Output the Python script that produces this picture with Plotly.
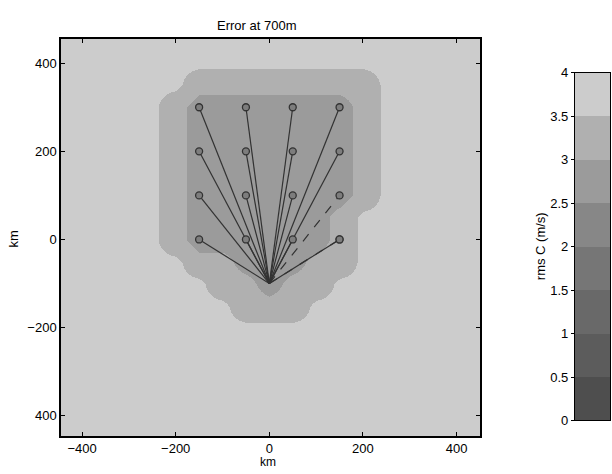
import plotly.graph_objects as go

# ---------------- data ----------------
grid_x = [-450, -400, -350, -300, -250, -200, -150, -100, -50, 0, 50, 100, 150, 200, 250, 300, 350, 400, 450]
grid_y = [-450, -400, -350, -300, -250, -200, -150, -100, -50, 0, 50, 100, 150, 200, 250, 300, 350, 400, 450]
B, O, I = 3.6, 3.2, 2.75
# rows bottom (y=-450) to top (y=450); rms error (m/s) read from the gray levels
grid_z = [
    [B, B, B, B, B, B, B, B, B, B, B, B, B, B, B, B, B, B, B],  # -450
    [B, B, B, B, B, B, B, B, B, B, B, B, B, B, B, B, B, B, B],  # -400
    [B, B, B, B, B, B, B, B, B, B, B, B, B, B, B, B, B, B, B],  # -350
    [B, B, B, B, B, B, B, B, B, B, B, B, B, B, B, B, B, B, B],  # -300
    [B, B, B, B, B, B, B, B, B, B, B, B, B, B, B, B, B, B, B],  # -250
    [B, B, B, B, B, B, B, B, B, B, B, B, B, B, B, B, B, B, B],  # -200
    [B, B, B, B, B, B, B, B, O, O, O, B, B, B, B, B, B, B, B],  # -150
    [B, B, B, B, B, B, B, O, O, I, O, O, B, B, B, B, B, B, B],  # -100
    [B, B, B, B, B, B, O, O, I, I, I, O, O, B, B, B, B, B, B],  # -50
    [B, B, B, B, B, O, I, I, I, I, I, I, O, B, B, B, B, B, B],  # 0
    [B, B, B, B, B, O, I, I, I, I, I, I, O, B, B, B, B, B, B],  # 50
    [B, B, B, B, B, O, I, I, I, I, I, I, I, O, B, B, B, B, B],  # 100
    [B, B, B, B, B, O, I, I, I, I, I, I, I, O, B, B, B, B, B],  # 150
    [B, B, B, B, B, O, I, I, I, I, I, I, I, O, B, B, B, B, B],  # 200
    [B, B, B, B, B, O, I, I, I, I, I, I, I, O, B, B, B, B, B],  # 250
    [B, B, B, B, B, O, I, I, I, I, I, I, I, O, B, B, B, B, B],  # 300
    [B, B, B, B, B, B, O, O, O, O, O, O, O, O, B, B, B, B, B],  # 350
    [B, B, B, B, B, B, B, B, B, B, B, B, B, B, B, B, B, B, B],  # 400
    [B, B, B, B, B, B, B, B, B, B, B, B, B, B, B, B, B, B, B],  # 450
]

station_x = [-150, -50, 50, 150, -150, -50, 50, 150, -150, -50, 50, 150, -150, -50, 50]
station_y = [300, 300, 300, 300, 200, 200, 200, 200, 100, 100, 100, 0, 0, 0, 0]
dashed_x = [150, 150]
dashed_y = [100, 0]
source_x, source_y = 0, -100

cbar_levels = [0.25, 0.75, 1.25, 1.75, 2.25, 2.75, 3.25, 3.75]
cbar_ticks = [0, 0.5, 1, 1.5, 2, 2.5, 3, 3.5, 4]
band_grays = [78, 92, 105, 118, 135, 155, 176, 204]

x_ticks = [-400, -200, 0, 200, 400]
y_ticks = [400, 200, 0, -200, -400]
y_ticktext = ["400", "200", "0", "\u2212200", "400"]
x_ticktext = ["\u2212400", "\u2212200", "0", "200", "400"]

# ---------------- figure ----------------
colorscale = []
n = len(band_grays)
for k, g in enumerate(band_grays):
    c = f"rgb({g},{g},{g})"
    colorscale.append([k / n, c])
    colorscale.append([(k + 1) / n, c])

fig = go.Figure()
fig.add_trace(go.Heatmap(x=grid_x, y=grid_y, z=grid_z, zmin=0, zmax=4, zsmooth="best",
                         colorscale=colorscale, showscale=False,
                         xaxis="x", yaxis="y", hoverinfo="skip"))

lx, ly = [], []
for sx, sy in zip(station_x, station_y):
    lx += [source_x, sx, None]
    ly += [source_y, sy, None]
fig.add_trace(go.Scatter(x=lx, y=ly, mode="lines",
                         line=dict(color="rgb(50,50,50)", width=1.2),
                         xaxis="x", yaxis="y", showlegend=False))
dx, dy = [], []
for sx, sy in zip(dashed_x, dashed_y):
    dx += [source_x, sx, None]
    dy += [source_y, sy, None]
fig.add_trace(go.Scatter(x=dx, y=dy, mode="lines",
                         line=dict(color="rgb(50,50,50)", width=1.2, dash="dash"),
                         xaxis="x", yaxis="y", showlegend=False))
fig.add_trace(go.Scatter(x=station_x + dashed_x, y=station_y + dashed_y, mode="markers",
                         marker=dict(size=7, color="rgb(125,125,125)",
                                     line=dict(color="rgb(50,50,50)", width=1.3)),
                         xaxis="x", yaxis="y", showlegend=False))

fig.add_trace(go.Heatmap(x=[0], y=cbar_levels, z=[[v] for v in cbar_levels],
                         zmin=0, zmax=4, colorscale=colorscale, showscale=False,
                         xaxis="x2", yaxis="y2", hoverinfo="skip"))

font = dict(family="Liberation Sans, Arial, sans-serif", size=13, color="black")
W, H = 612, 474

def fx(px):
    return px / W

def fy(py):
    return 1 - py / H

axis_common = dict(showline=True, linecolor="black", linewidth=1.5, mirror="ticks",
                   ticks="inside", ticklen=4, tickcolor="black", showgrid=False,
                   zeroline=False, tickfont=font)

def label(text, px, py, angle=0, size=13):
    return dict(text=text, x=fx(px), y=fy(py), xref="paper", yref="paper",
                xanchor="center", yanchor="middle", showarrow=False,
                textangle=angle, font=dict(family=font["family"], size=size, color="black"))

fig.update_layout(
    width=W, height=H, margin=dict(l=0, r=0, t=0, b=0),
    paper_bgcolor="white", plot_bgcolor="white", font=font, showlegend=False,
    xaxis=dict(domain=[fx(61), fx(480)], range=[-445, 450], tickvals=x_ticks,
               ticktext=x_ticktext, anchor="y", **axis_common),
    yaxis=dict(domain=[fy(443), fy(33)], range=[-446, 455], tickvals=y_ticks,
               ticktext=y_ticktext, anchor="x", **axis_common),
    xaxis2=dict(domain=[fx(575), fx(610)], range=[-0.5, 0.5], showticklabels=False,
                ticks="", showline=True, linecolor="black", linewidth=1.2, mirror=True,
                showgrid=False, zeroline=False, anchor="y2"),
    yaxis2=dict(domain=[fy(427), fy(68)], range=[0, 4], tickvals=cbar_ticks,
                ticks="outside", ticklen=3, tickcolor="black", showline=True,
                linecolor="black", linewidth=1.2, mirror=True, showgrid=False,
                zeroline=False, tickfont=font, anchor="x2"),
    annotations=[
        label("Error at 700m", 256, 19),
        label("km", 268, 470, size=12),
        label("km", 13, 240, -90),
        label("rms C (m/s)", 540, 247, -90),
    ],
)

fig.write_html("out.html")
